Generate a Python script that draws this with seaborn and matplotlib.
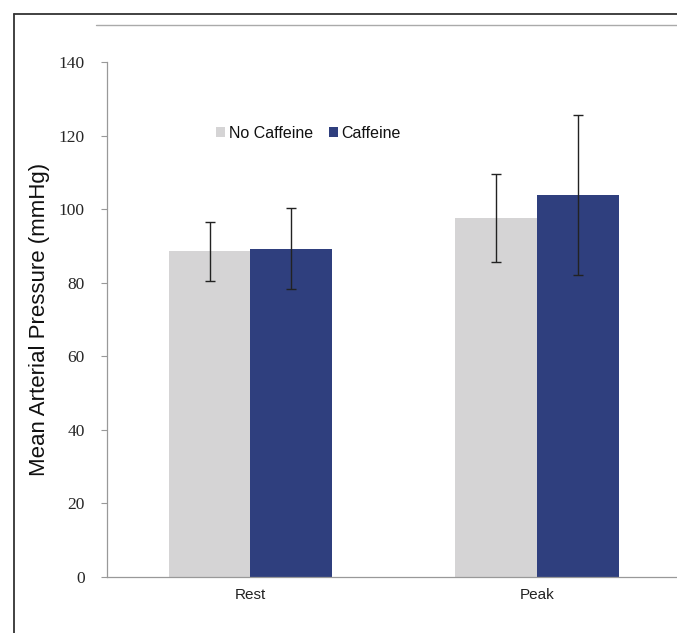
import numpy as np
import pandas as pd
import seaborn as sns
import matplotlib.pyplot as plt
from matplotlib.lines import Line2D

phases = ['Rest', 'Peak']
conditions = ['No Caffeine', 'Caffeine']
no_caffeine = [88.5, 97.6]
caffeine = [89.2, 103.9]
no_caffeine_sd = [8.0, 12.0]
caffeine_sd = [11.0, 21.8]
colors = ['#D5D4D5', '#2F3F7E']

df = pd.DataFrame({
    'phase': phases * 2,
    'condition': [conditions[0]] * 2 + [conditions[1]] * 2,
    'map': no_caffeine + caffeine,
})
errs = [no_caffeine_sd, caffeine_sd]

sns.set_style('white')
fig = plt.figure(figsize=(6.77, 6.33), dpi=100)
ax = fig.add_axes([107 / 677, 56 / 633, (680.5 - 107) / 677, 515 / 633])

sns.barplot(data=df, x='phase', y='map', hue='condition', hue_order=conditions,
            order=phases, palette=colors, width=0.57, gap=0, errorbar=None,
            saturation=1, linewidth=0, ax=ax)

# error bars on top of each bar
for cont, err in zip(ax.containers, errs):
    for bar, e in zip(cont, err):
        xc = bar.get_x() + bar.get_width() / 2
        ax.errorbar(xc, bar.get_height(), yerr=e, fmt='none', ecolor='#222222',
                    elinewidth=1, capsize=3.6, capthick=1, zorder=5)

ax.set_xlim(-0.5, 1.5)
ax.set_ylim(0, 140)
ax.set_yticks(np.arange(0, 141, 20))
ax.set_yticklabels([str(v) for v in range(0, 141, 20)],
                   family='Liberation Serif', fontsize=12.5)
ax.set_xticks([0, 1])
ax.set_xticklabels(phases, family='Liberation Sans', fontsize=11, color='#222222')
ax.set_xticks([-0.5, 0.5, 1.5], minor=True)
ax.tick_params(axis='x', which='major', length=0, pad=8)
ax.tick_params(axis='x', which='minor', length=4, direction='out', color='#999999', width=0.8)
ax.tick_params(axis='y', length=4, direction='out', color='#999999', width=0.8,
               left=True, pad=12)
ax.set_xlabel('')
ax.set_ylabel('Mean Arterial Pressure (mmHg)', family='Liberation Sans',
              fontsize=16, labelpad=6, color='#111111')

for s in ['top', 'right']:
    ax.spines[s].set_visible(False)
for s in ['left', 'bottom']:
    ax.spines[s].set_color('#999999')
    ax.spines[s].set_linewidth(0.9)

leg = ax.legend(loc='center left', bbox_to_anchor=(216 / 677, 1 - 133 / 633),
                bbox_transform=fig.transFigure, frameon=False, ncol=2,
                handlelength=0.55, handleheight=0.55, handletextpad=0.25,
                columnspacing=1.0, borderpad=0, borderaxespad=0,
                prop={'family': 'Liberation Sans', 'size': 11.5})
for t in leg.get_texts():
    t.set_color('#111111')

# page frame lines
fig.add_artist(Line2D([14 / 677, 1], [1 - 14 / 633, 1 - 14 / 633], color='#333333', lw=1.3))
fig.add_artist(Line2D([14 / 677, 14 / 677], [0, 1 - 14 / 633], color='#333333', lw=1.3))
fig.add_artist(Line2D([96 / 677, 1], [1 - 25 / 633, 1 - 25 / 633], color='#aaaaaa', lw=1))

fig.savefig('out.png', dpi=100)
